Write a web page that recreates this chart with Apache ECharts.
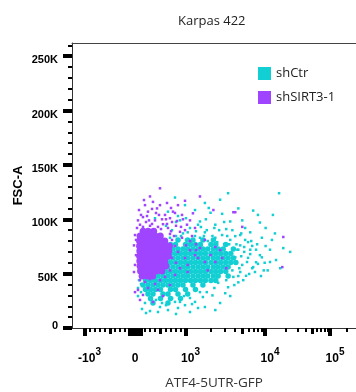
<!DOCTYPE html>
<html>
<head>
<meta charset="utf-8">
<title>Karpas 422</title>
<script src="https://cdn.jsdelivr.net/npm/echarts@6.0.0/dist/echarts.min.js"></script>
<style>
html,body{margin:0;padding:0;background:#fff;}
#chart{width:356px;height:392px;}
</style>
</head>
<body>
<div id="chart"></div>
<script>
/*
 * Karpas 422 - ATF4-5UTR-GFP vs FSC-A
 * points: [GFP, FSC-A in K]
 * core rows: [FSC-A in K, [GFP...]] for the dense part of a population
 */
var shCtrCoreRows=[
    [81,[851,1060,1220,1600,2140]],
    [76.8,[703,802,1000,1145,1305,1495,2000,2290,3045]],
    [72.7,[554,653,752,851,950,1060,1220,1400,1600,1830,2140,2450,2830,3800]],
    [68.5,[406,505,604,703,802,901,1000,1145,1305,1495,1712,2000,2290,2630,3045,3525]],
    [64.4,[257,356,455,554,653,752,851,950,1060,1220,1400,1600,1830,2140,2450,2830,3260,3800]],
    [60.3,[307,406,505,604,703,802,901,1000,1145,1305,1495,1712,2000,2290,2630,3045,3525,4090]],
    [56.1,[257,356,455,554,653,752,851,950,1060,1220,1400,1600,1830,2140,2450,2830,3260]],
    [52,[307,406,505,604,703,802,901,1000,1145,1305,1495,1712,2000,2290,2630,3045]],
    [47.8,[158,257,356,455,554,653,752,851,950,1060,1220,1400,1600,1830,2140,2450,3260]],
    [43.7,[208,307,406,505,604,703,802,901,1000,1145,1305,1495,1712,2000,2290]],
    [39.5,[158,257,356,455,554,653,752,851,950,1220,1600]],
    [35.4,[208,307,406,505,703,802,1000,1305]],
    [31.3,[257,356,554,653,851,1060]],
    [27.1,[307,505,703,901]],
    [23,[356,653]]
];
var shCtrSpread=[
    [3260,124],[15800,124],[792,120],[1690,115],[2590,118],[4400,110],[6900,108],[8000,104],[12900,104],[8510,97],
    [13800,87],[9050,83],[5900,79],[990,113],[1290,108.5],[1977,106],[653,107],[396,101],[891,99],[1476,98],
    [2260,95],[3470,98],[5400,92],[1127,92],[1690,88],[2745,85.5],[4020,84.5],[733,90],[495,85.5],[6310,72],
    [4950,99],[10200,92],[18200,73.5],[23000,70],
    [812,97.5],[1013,101],[1400,95],[1735,100],[2200,92],[2910,97.5],[3690,90],[4660,85.5],[6310,88],[911,84.6],
    [1220,81],[1645,84.6],[2385,79],[3360,77],[2030,76.3],[1325,89],[614,94],[851,103],[1880,110.4],[2745,105],
    [4660,76],[5250,70],[5900,64.5],[6700,75.5],[7550,60.5],[8510,67],[9900,60],[11750,72],[6900,56],[4660,51.5],
    [5550,48],[3800,47],[4400,42],[3260,37.5],[7300,51.5],[10900,53],[14300,62.5],[16400,55],[4160,60.5],[4950,58],
    [4400,72],[4800,66],[5250,74.5],[5720,60.7],[6310,68],[6700,55],[7550,72],[8000,59],[9050,65],[9600,53],
    [10200,75.4],[11750,60.7],[4530,55],[5400,81],[6500,80],[5100,44],[6100,49.7],[7800,77],[8800,47.8],[12500,81],
    [4160,77],[4400,47.8],[3910,39.5],[4800,87],[3175,84.6],
    [950,87],[1290,84.6],[1780,90],[2085,84.6],[2520,90],[1060,88],[1515,92.9],[3090,91],
    [2450,41.5],[1780,33],[1600,28.5],[2590,23],[1690,19.3],[2085,30],[3000,32],[1290,24],[990,21],[851,18.4],
    [653,16.5],[495,19.3],[297,15.6],[139,17.5],[1127,14.7],[792,24],[1400,18.4],[198,23],[59,29.4],[59,36.8],
    [79,44],[3470,29.4],[2260,16.5],
    [416,25.8],[614,21],[733,27.6],[970,29.4],[1190,22],[455,14.7],[812,12.9],[218,13.8],
    [594,81],[495,75.4],[3470,81],[4280,72],[4020,65],[3690,53],[3090,44],[2200,36.8],[1476,33],[1127,27.6],
    [891,24],[535,23],[297,25.8],[119,33],[119,40.5],[158,53],[198,60.5],[693,83],[1476,83],[2260,83],
    [2910,77],[1013,81],[812,84.6],[1830,80]
];
var shSirtCore=[
    [160,89],[260,89],[370,89],
    [100,84.6],[190,84.6],[290,84.6],[400,84.6],[500,84.6],
    [90,80],[180,80],[270,80],[380,80],[480,80],[590,80],
    [90,75.4],[170,75.4],[260,75.4],[360,75.4],[460,75.4],[570,75.4],[680,75.4],
    [95,70.8],[180,70.8],[270,70.8],[370,70.8],[470,70.8],[560,70.8],[670,70.8],
    [90,66.2],[170,66.2],[260,66.2],[350,66.2],[450,66.2],[560,66.2],[660,66.2],
    [95,61.6],[180,61.6],[270,61.6],[380,61.6],[490,61.6],[590,61.6],
    [100,57],[190,57],[280,57],[390,57],[500,57],[610,57],
    [110,52.4],[210,52.4],[310,52.4],[420,52.4],[530,52.4],
    [140,47.8],[240,47.8],[350,47.8]
];
var shSirtSpread=[
    [495,128.5],[356,116],[634,115],[851,113],[752,107],[1476,121],[990,117],[158,102],[1127,99],[2140,108.5],
    [4020,106.5],[1220,105.5],[99,95],[218,97.5],[297,94],[396,99],[455,93],[554,95.5],[653,92],[733,97.5],
    [812,94],[891,88.5],[257,107],[436,110],[594,104],[79,108.5],[198,113],[297,121],[931,104],[1040,95],
    [1290,92],[693,101],
    [139,90],[337,95.7],[515,91],[59,99],[238,103],[416,105.8],[614,100],[792,105.8],[495,113],[713,110.4],
    [950,100],[178,117.7],
    [158,93],[277,99],[376,89],[535,100],[634,95.7],[713,89],[119,104],[337,109.5],[475,104],[832,98.4],
    [990,90],[911,93],[772,84.6],[1127,80],[1325,71.6],
    [693,86.5],[733,81],[792,75.4],[851,70],[733,64.4],[812,60],[931,83],[1013,76],[1127,71.6],[990,64.4],
    [891,55],[1190,84.6],[1325,77],[1400,64.4],[693,53],[792,48.8],[1060,58],[1476,73.6],[1690,81],[1977,67],
    [2260,60.7],[2590,71.7],[3090,55],[1830,53],
    [0,85.5],[-20,76],[20,67],[0,58],[-20,51.5],[20,81],[40,92],
    [99,44],[198,42.3],[297,45],[396,40.5],[495,44],[594,47],[59,35],[158,30.4],[257,36.8],
    [0,33],[99,25.8],[455,35],[693,39.5],[554,29.4],[356,24],
    [18200,83.7],[17600,56],[3800,106.5],[4950,93],
    [1290,67],[1690,60.7],[1060,51.5],[2260,74.5],[2745,64.4]
];

// x axis ticks (GFP units)
var xMajorTicks=[-1000,1000,10000,100000];
var xZeroTick=[0];
var xMidTicks=[-500,500,5000,50000];
var xMinorTicks=[-900,-800,-700,-600,-400,-300,-200,200,300,400,600,700,800,900,
    2000,3000,4000,6000,7000,8000,9000,20000,30000,40000,60000,70000,80000,90000,200000];
var xLabelValues=[-1000,0,1000,10000,100000];
var xLabelBase=['-10','0','10','10','10'];
var xLabelExp=['3','','3','4','5'];

// y axis ticks (K)
var yMajorTicks=[0,50,100,150,200,250];
var yMinorTicks=[10,20,30,40,60,70,80,90,110,120,130,140,160,170,180,190,210,220,230,240,260];

/*
 * biexponential display scale: linear in [-1000,1000], log-like beyond
 */
function biex(v){
    var a=Math.abs(v),s=v<0?-1:1;
    if(a<=1000){
        return v/1000;
    };
    var L=Math.log10(a/1000);
    return s*(1+1.7175*L-0.1435*L*L);
}
function toXY(list){
    return list.map(function(p){return [biex(p[0]),p[1]];});
}
function fromRows(rows){
    var out=[];
    rows.forEach(function(r){
        r[1].forEach(function(g){out.push([g,r[0]]);});
    });
    return out;
}

var xMin=-1.2475,xMax=4.376,yMax=262.144;
var axisColor='#333';
var cyan='#12CFD3',purple='#A045FF';
var tickFont={fontFamily:'Liberation Sans',fontSize:11,fontWeight:'bold',color:'#000'};

function xTickAxis(ticks,len,width){
    return {
        type:'value',gridIndex:0,position:'bottom',min:xMin,max:xMax,
        axisLine:{show:false,onZero:false},
        axisTick:{show:true,customValues:ticks.map(biex),length:len,lineStyle:{color:'#000',width:width}},
        axisLabel:{show:false},
        splitLine:{show:false}
    };
}
function dots(name,list,color,symbol,size){
    return {
        name:name,type:'scatter',xAxisIndex:0,yAxisIndex:0,
        symbol:symbol,symbolSize:size,silent:true,
        itemStyle:{color:color,opacity:1},
        data:toXY(list)
    };
}

var chart=echarts.init(document.getElementById('chart'));
chart.setOption({
    animation:false,
    title:{
        text:'Karpas 422',left:173,top:10,
        textStyle:{fontFamily:'Open Sans',fontSize:13,fontWeight:'normal',color:'#222'}
    },
    legend:{
        orient:'vertical',left:253,top:62,itemWidth:13,itemHeight:13,itemGap:11,
        icon:'rect',
        textStyle:{fontFamily:'Open Sans',fontSize:13,color:'#222'},
        data:['shCtr','shSIRT3-1']
    },
    grid:{left:72,right:0,top:43,bottom:64,outerBoundsMode:'none',containLabel:false},
    xAxis:[
        {
            type:'value',gridIndex:0,position:'bottom',min:xMin,max:xMax,
            name:'ATF4-5UTR-GFP',nameLocation:'middle',nameGap:48,nameMoveOverlap:false,
            nameTextStyle:{fontFamily:'Open Sans',fontSize:13.5,color:'#333'},
            axisLine:{show:true,onZero:false,lineStyle:{color:axisColor,width:1}},
            axisTick:{show:true,customValues:xMajorTicks.map(biex),length:8,lineStyle:{color:'#000',width:4}},
            axisLabel:{
                show:true,margin:19,
                customValues:xLabelValues.map(biex),
                formatter:function(val){
                    for(var i=0;i<xLabelValues.length;i++){
                        if(Math.abs(biex(xLabelValues[i])-val)<1e-6){
                            if(!xLabelExp[i]){
                                return '{z|'+xLabelBase[i]+'}';
                            };
                            return '{b|'+xLabelBase[i]+'}{s|'+xLabelExp[i]+'}';
                        };
                    };
                    return '';
                },
                rich:{
                    z:{fontFamily:'Liberation Sans',fontSize:12,fontWeight:'bold',color:'#000',lineHeight:18,verticalAlign:'bottom'},
                    b:{fontFamily:'Liberation Sans',fontSize:12,fontWeight:'bold',color:'#000',lineHeight:18,verticalAlign:'bottom',padding:[0,0,0,10]},
                    s:{fontFamily:'Liberation Sans',fontSize:10,fontWeight:'bold',color:'#000',lineHeight:18,verticalAlign:'top'}
                }
            },
            splitLine:{show:false}
        },
        xTickAxis(xZeroTick,8,15),
        xTickAxis(xMidTicks,6,3),
        xTickAxis(xMinorTicks,4,2),
        {
            // top frame line
            type:'value',gridIndex:0,position:'top',min:xMin,max:xMax,
            axisLine:{show:true,onZero:false,lineStyle:{color:'#444',width:1}},
            axisTick:{show:false},axisLabel:{show:false},splitLine:{show:false}
        }
    ],
    yAxis:[
        {
            type:'value',gridIndex:0,position:'left',min:0,max:yMax,
            name:'FSC-A',nameLocation:'middle',nameGap:47,nameMoveOverlap:false,
            nameTextStyle:{fontFamily:'Liberation Sans',fontSize:13,fontWeight:'bold',color:'#000'},
            axisLine:{show:true,onZero:false,lineStyle:{color:axisColor,width:1}},
            axisTick:{show:true,customValues:yMajorTicks,length:9,lineStyle:{color:'#000',width:4}},
            axisLabel:{
                show:true,margin:14,customValues:yMajorTicks,
                formatter:function(v){return v===0?'{z|0}':'{k|'+v+'K}';},
                rich:{
                    z:Object.assign({padding:[0,0,5,0]},tickFont),
                    k:Object.assign({padding:[8,0,0,0]},tickFont)
                }
            },
            splitLine:{show:false}
        },
        {
            type:'value',gridIndex:0,position:'left',min:0,max:yMax,
            axisLine:{show:false,onZero:false},
            axisTick:{show:true,customValues:yMinorTicks,length:4,lineStyle:{color:'#000',width:2}},
            axisLabel:{show:false},splitLine:{show:false}
        }
    ],
    series:[
        dots('shCtr',fromRows(shCtrCoreRows),cyan,'circle',5.5),
        dots('shCtr',shCtrSpread,cyan,'rect',2.5),
        dots('shSIRT3-1',shSirtCore,purple,'circle',7),
        dots('shSIRT3-1',shSirtSpread,purple,'rect',2.5)
    ]
});
</script>
</body>
</html>
